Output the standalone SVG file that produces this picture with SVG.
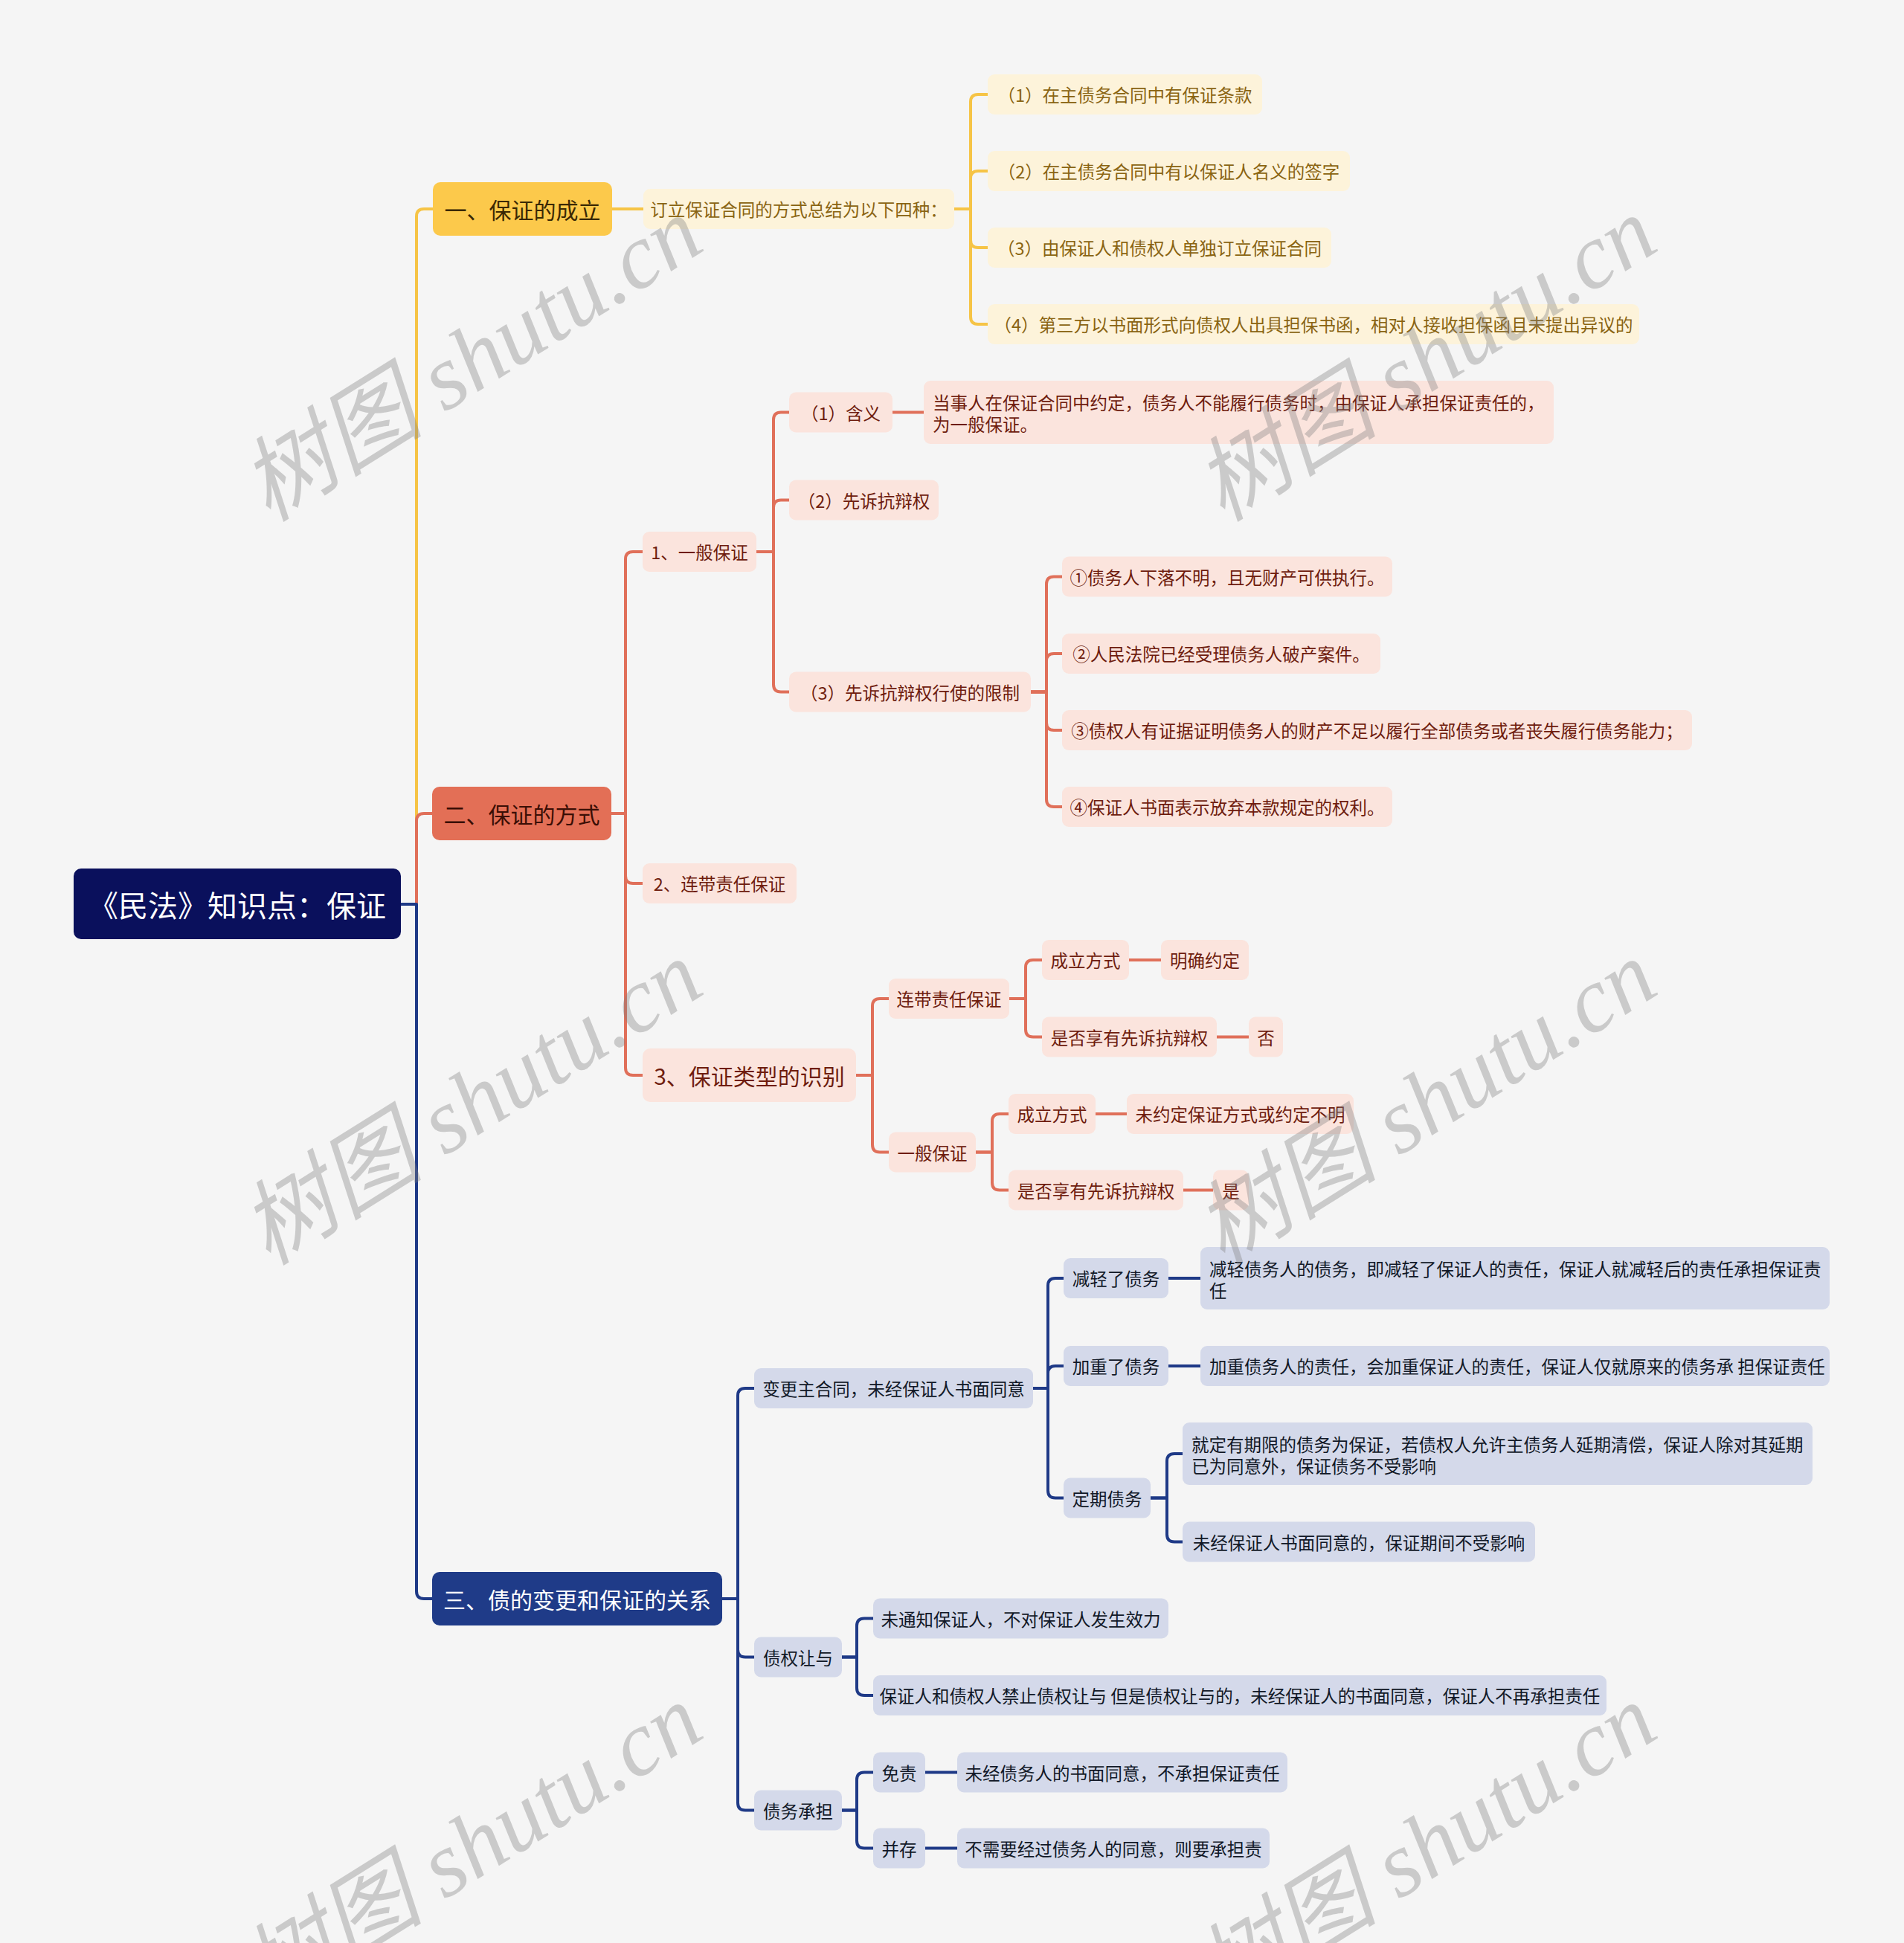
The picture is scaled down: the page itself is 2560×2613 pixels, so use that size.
<svg xmlns="http://www.w3.org/2000/svg" width="2560" height="2613" viewBox="0 0 2560 2613">
<style>
text{font-family:"Noto Sans CJK SC","Liberation Sans",sans-serif;dominant-baseline:central}
.c{text-anchor:middle}
.s{font-size:23.5px}
.l1{font-size:30px}
.ln{fill:none;stroke-width:4;stroke-linecap:round;stroke-linejoin:round}
.ly{stroke:#f6c446}.lr{stroke:#e0705a}.lb{stroke:#1f3a87}
.ny{fill:#fdf3da}.ty{fill:#8a6412}
.nr{fill:#fbe4dd}.tr{fill:#6e1c0e}
.nb{fill:#d4d9ea}.tb{fill:#111827}
.wm{font-family:"Liberation Serif","Noto Sans CJK SC",serif;font-style:italic;font-size:124px;fill:#808080;opacity:0.36;dominant-baseline:auto}
</style>
<rect width="2560" height="2613" fill="#f5f5f5"/>
<g id="connectors">
<path class="ln ly" d="M539 1216H560V291Q560 281 570 281H582"/>
<path class="ln lr" d="M539 1216H560V1104Q560 1094 570 1094H581"/>
<path class="ln lb" d="M539 1216H560V2140Q560 2150 570 2150H581"/>
<path class="ln ly" d="M823 281H865"/>
<path class="ln ly" d="M1283 281H1305V137Q1305 127 1315 127H1328"/>
<path class="ln ly" d="M1283 281H1305V240Q1305 230 1315 230H1328"/>
<path class="ln ly" d="M1283 281H1305V323Q1305 333 1315 333H1328"/>
<path class="ln ly" d="M1283 281H1305V426Q1305 436 1315 436H1328"/>
<path class="ln lr" d="M822 1094H841V752Q841 742 851 742H864"/>
<path class="ln lr" d="M822 1094H841V1178Q841 1188 851 1188H864"/>
<path class="ln lr" d="M822 1094H841V1436Q841 1446 851 1446H864"/>
<path class="ln lr" d="M1017 742H1040V564.5Q1040 554.5 1050 554.5H1061"/>
<path class="ln lr" d="M1017 742H1040V682.5Q1040 672.5 1050 672.5H1061"/>
<path class="ln lr" d="M1017 742H1040V920.5Q1040 930.5 1050 930.5H1061"/>
<path class="ln lr" d="M1200 554.5H1242"/>
<path class="ln lr" d="M1386 930.5H1407V785.5Q1407 775.5 1417 775.5H1428"/>
<path class="ln lr" d="M1386 930.5H1407V889Q1407 879 1417 879H1428"/>
<path class="ln lr" d="M1386 930.5H1407V972Q1407 982 1417 982H1428"/>
<path class="ln lr" d="M1386 930.5H1407V1075Q1407 1085 1417 1085H1428"/>
<path class="ln lr" d="M1151 1446H1173V1353Q1173 1343 1183 1343H1195"/>
<path class="ln lr" d="M1151 1446H1173V1539.5Q1173 1549.5 1183 1549.5H1195"/>
<path class="ln lr" d="M1357 1343H1379V1301Q1379 1291 1389 1291H1401"/>
<path class="ln lr" d="M1357 1343H1379V1384.5Q1379 1394.5 1389 1394.5H1401"/>
<path class="ln lr" d="M1518 1291H1561"/>
<path class="ln lr" d="M1636 1394.5H1679"/>
<path class="ln lr" d="M1312 1549.5H1334V1508Q1334 1498 1344 1498H1356"/>
<path class="ln lr" d="M1312 1549.5H1334V1590.5Q1334 1600.5 1344 1600.5H1356"/>
<path class="ln lr" d="M1473 1498H1515"/>
<path class="ln lr" d="M1591 1600.5H1631"/>
<path class="ln lb" d="M971 2150H992V1877Q992 1867 1002 1867H1014"/>
<path class="ln lb" d="M971 2150H992V2218.5Q992 2228.5 1002 2228.5H1014"/>
<path class="ln lb" d="M971 2150H992V2424.5Q992 2434.5 1002 2434.5H1014"/>
<path class="ln lb" d="M1389 1867H1409V1729Q1409 1719 1419 1719H1430"/>
<path class="ln lb" d="M1389 1867H1409V1847Q1409 1837 1419 1837H1430"/>
<path class="ln lb" d="M1389 1867H1409V2004.5Q1409 2014.5 1419 2014.5H1430"/>
<path class="ln lb" d="M1571 1719H1614"/>
<path class="ln lb" d="M1571 1837H1614"/>
<path class="ln lb" d="M1547 2014.5H1569V1965Q1569 1955 1579 1955H1590"/>
<path class="ln lb" d="M1547 2014.5H1569V2063.5Q1569 2073.5 1579 2073.5H1590"/>
<path class="ln lb" d="M1132 2228.5H1152V2186.5Q1152 2176.5 1162 2176.5H1174"/>
<path class="ln lb" d="M1132 2228.5H1152V2270Q1152 2280 1162 2280H1174"/>
<path class="ln lb" d="M1132 2434.5H1152V2393.5Q1152 2383.5 1162 2383.5H1174"/>
<path class="ln lb" d="M1132 2434.5H1152V2475.5Q1152 2485.5 1162 2485.5H1174"/>
<path class="ln lb" d="M1244 2383.5H1287"/>
<path class="ln lb" d="M1244 2485.5H1287"/>
</g>
<g id="root"><rect x="99" y="1168" width="440" height="95" rx="10" fill="#0a105c"/><text class="c" x="319" y="1215.5" font-size="40" fill="#ffffff">《民法》知识点：保证</text></g>
<g id="n1"><rect x="582" y="245" width="241" height="72" rx="10" fill="#fcc94b"/><text class="c l1" x="702.5" y="281" fill="#3a2804">一、保证的成立</text></g>
<g id="n1-1"><rect class="ny" x="865" y="254" width="418" height="54" rx="9"/><text class="c s ty" x="1074" y="281">订立保证合同的方式总结为以下四种：</text></g>
<g id="n1-1-1"><rect class="ny" x="1328" y="100" width="369" height="54" rx="9"/><text class="c s ty" x="1512.5" y="127">（1）在主债务合同中有保证条款</text></g>
<g id="n1-1-2"><rect class="ny" x="1328" y="203" width="487" height="54" rx="9"/><text class="c s ty" x="1571.5" y="230">（2）在主债务合同中有以保证人名义的签字</text></g>
<g id="n1-1-3"><rect class="ny" x="1328" y="306" width="462" height="54" rx="9"/><text class="c s ty" x="1559" y="333">（3）由保证人和债权人单独订立保证合同</text></g>
<g id="n1-1-4"><rect class="ny" x="1328" y="409" width="876" height="54" rx="9"/><text class="c s ty" x="1766" y="436">（4）第三方以书面形式向债权人出具担保书函，相对人接收担保函且未提出异议的</text></g>
<g id="n2"><rect x="581" y="1058" width="241" height="72" rx="10" fill="#e36f56"/><text class="c l1" x="701.5" y="1094" fill="#3a0e05">二、保证的方式</text></g>
<g id="n2-1"><rect class="nr" x="864" y="715" width="153" height="54" rx="9"/><text class="c s tr" x="940.5" y="742">1、一般保证</text></g>
<g id="n2-1-1"><rect class="nr" x="1061" y="527.5" width="139" height="54" rx="9"/><text class="c s tr" x="1130.5" y="554.5">（1）含义</text></g>
<g id="n2-1-1-1"><rect class="nr" x="1242" y="512" width="847" height="85" rx="9"/><text class="s tr" x="1254" y="541">当事人在保证合同中约定，债务人不能履行债务时，由保证人承担保证责任的，</text><text class="s tr" x="1254" y="570">为一般保证。</text></g>
<g id="n2-1-2"><rect class="nr" x="1061" y="645.5" width="201" height="54" rx="9"/><text class="c s tr" x="1161.5" y="672.5">（2）先诉抗辩权</text></g>
<g id="n2-1-3"><rect class="nr" x="1061" y="903.5" width="325" height="54" rx="9"/><text class="c s tr" x="1223.5" y="930.5">（3）先诉抗辩权行使的限制</text></g>
<g id="n2-1-3-1"><rect class="nr" x="1428" y="748.5" width="444" height="54" rx="9"/><text class="c s tr" x="1650" y="775.5">①债务人下落不明，且无财产可供执行。</text></g>
<g id="n2-1-3-2"><rect class="nr" x="1428" y="852" width="428" height="54" rx="9"/><text class="c s tr" x="1642" y="879">②人民法院已经受理债务人破产案件。</text></g>
<g id="n2-1-3-3"><rect class="nr" x="1428" y="955" width="847" height="54" rx="9"/><text class="c s tr" x="1851.5" y="982">③债权人有证据证明债务人的财产不足以履行全部债务或者丧失履行债务能力；</text></g>
<g id="n2-1-3-4"><rect class="nr" x="1428" y="1058" width="444" height="54" rx="9"/><text class="c s tr" x="1650" y="1085">④保证人书面表示放弃本款规定的权利。</text></g>
<g id="n2-2"><rect class="nr" x="864" y="1161" width="207" height="54" rx="9"/><text class="c s tr" x="967.5" y="1188">2、连带责任保证</text></g>
<g id="n2-3"><rect class="nr" x="864" y="1410" width="287" height="72" rx="10"/><text class="c l1 tr" x="1007.5" y="1446">3、保证类型的识别</text></g>
<g id="n2-3-1"><rect class="nr" x="1195" y="1316" width="162" height="54" rx="9"/><text class="c s tr" x="1276" y="1343">连带责任保证</text></g>
<g id="n2-3-1-1"><rect class="nr" x="1401" y="1264" width="117" height="54" rx="9"/><text class="c s tr" x="1459.5" y="1291">成立方式</text></g>
<g id="n2-3-1-1-1"><rect class="nr" x="1561" y="1264" width="118" height="54" rx="9"/><text class="c s tr" x="1620" y="1291">明确约定</text></g>
<g id="n2-3-1-2"><rect class="nr" x="1401" y="1367.5" width="235" height="54" rx="9"/><text class="c s tr" x="1518.5" y="1394.5">是否享有先诉抗辩权</text></g>
<g id="n2-3-1-2-1"><rect class="nr" x="1679" y="1367.5" width="46" height="54" rx="9"/><text class="c s tr" x="1702" y="1394.5">否</text></g>
<g id="n2-3-2"><rect class="nr" x="1195" y="1522.5" width="117" height="54" rx="9"/><text class="c s tr" x="1253.5" y="1549.5">一般保证</text></g>
<g id="n2-3-2-1"><rect class="nr" x="1356" y="1471" width="117" height="54" rx="9"/><text class="c s tr" x="1414.5" y="1498">成立方式</text></g>
<g id="n2-3-2-1-1"><rect class="nr" x="1515" y="1471" width="305" height="54" rx="9"/><text class="c s tr" x="1667.5" y="1498">未约定保证方式或约定不明</text></g>
<g id="n2-3-2-2"><rect class="nr" x="1356" y="1573.5" width="235" height="54" rx="9"/><text class="c s tr" x="1473.5" y="1600.5">是否享有先诉抗辩权</text></g>
<g id="n2-3-2-2-1"><rect class="nr" x="1631" y="1573.5" width="48" height="54" rx="9"/><text class="c s tr" x="1655" y="1600.5">是</text></g>
<g id="n3"><rect x="581" y="2114" width="390" height="72" rx="10" fill="#1f3b88"/><text class="c l1" x="776" y="2150" fill="#ffffff">三、债的变更和保证的关系</text></g>
<g id="n3-1"><rect class="nb" x="1014" y="1840" width="375" height="54" rx="9"/><text class="c s tb" x="1201.5" y="1867">变更主合同，未经保证人书面同意</text></g>
<g id="n3-1-1"><rect class="nb" x="1430" y="1692" width="141" height="54" rx="9"/><text class="c s tb" x="1500.5" y="1719">减轻了债务</text></g>
<g id="n3-1-1-1"><rect class="nb" x="1614" y="1677" width="846" height="84" rx="9"/><text class="s tb" x="1626" y="1706">减轻债务人的债务，即减轻了保证人的责任，保证人就减轻后的责任承担保证责</text><text class="s tb" x="1626" y="1735">任</text></g>
<g id="n3-1-2"><rect class="nb" x="1430" y="1810" width="141" height="54" rx="9"/><text class="c s tb" x="1500.5" y="1837">加重了债务</text></g>
<g id="n3-1-2-1"><rect class="nb" x="1614" y="1810" width="846" height="54" rx="9"/><text class="s tb" x="1626" y="1837">加重债务人的责任，会加重保证人的责任，保证人仅就原来的债务承 担保证责任</text></g>
<g id="n3-1-3"><rect class="nb" x="1430" y="1987.5" width="117" height="54" rx="9"/><text class="c s tb" x="1488.5" y="2014.5">定期债务</text></g>
<g id="n3-1-3-1"><rect class="nb" x="1590" y="1913" width="847" height="84" rx="9"/><text class="s tb" x="1602" y="1942">就定有期限的债务为保证，若债权人允许主债务人延期清偿，保证人除对其延期</text><text class="s tb" x="1602" y="1971">已为同意外，保证债务不受影响</text></g>
<g id="n3-1-3-2"><rect class="nb" x="1590" y="2046.5" width="474" height="54" rx="9"/><text class="c s tb" x="1827" y="2073.5">未经保证人书面同意的，保证期间不受影响</text></g>
<g id="n3-2"><rect class="nb" x="1014" y="2201.5" width="118" height="54" rx="9"/><text class="c s tb" x="1073" y="2228.5">债权让与</text></g>
<g id="n3-2-1"><rect class="nb" x="1174" y="2149.5" width="397" height="54" rx="9"/><text class="c s tb" x="1372.5" y="2176.5">未通知保证人，不对保证人发生效力</text></g>
<g id="n3-2-2"><rect class="nb" x="1174" y="2253" width="986" height="54" rx="9"/><text class="c s tb" x="1667" y="2280">保证人和债权人禁止债权让与 但是债权让与的，未经保证人的书面同意，保证人不再承担责任</text></g>
<g id="n3-3"><rect class="nb" x="1014" y="2407.5" width="118" height="54" rx="9"/><text class="c s tb" x="1073" y="2434.5">债务承担</text></g>
<g id="n3-3-1"><rect class="nb" x="1174" y="2356.5" width="70" height="54" rx="9"/><text class="c s tb" x="1209" y="2383.5">免责</text></g>
<g id="n3-3-1-1"><rect class="nb" x="1287" y="2356.5" width="444" height="54" rx="9"/><text class="c s tb" x="1509" y="2383.5">未经债务人的书面同意，不承担保证责任</text></g>
<g id="n3-3-2"><rect class="nb" x="1174" y="2458.5" width="70" height="54" rx="9"/><text class="c s tb" x="1209" y="2485.5">并存</text></g>
<g id="n3-3-2-1"><rect class="nb" x="1287" y="2458.5" width="420" height="54" rx="9"/><text class="c s tb" x="1497" y="2485.5">不需要经过债务人的同意，则要承担责</text></g>
<g id="watermarks">
<text class="wm" transform="translate(361 703) rotate(-32)">树图 shutu.cn</text>
<text class="wm" transform="translate(1644 703) rotate(-32)">树图 shutu.cn</text>
<text class="wm" transform="translate(361 1703) rotate(-32)">树图 shutu.cn</text>
<text class="wm" transform="translate(1644 1703) rotate(-32)">树图 shutu.cn</text>
<text class="wm" transform="translate(361 2703) rotate(-32)">树图 shutu.cn</text>
<text class="wm" transform="translate(1644 2703) rotate(-32)">树图 shutu.cn</text>
</g>
</svg>
